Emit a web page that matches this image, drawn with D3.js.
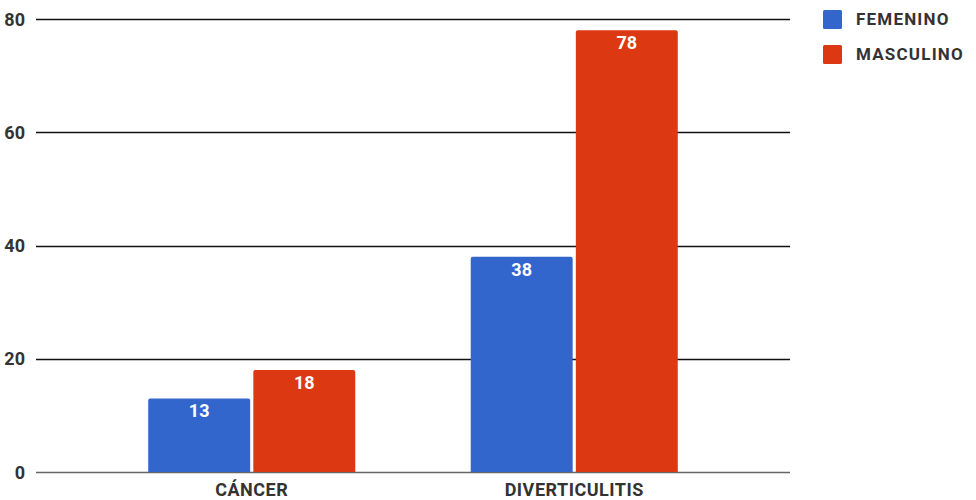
<!DOCTYPE html>
<html>
<head>
<meta charset="utf-8">
<script src="https://cdn.jsdelivr.net/npm/d3@7"></script>
<style>
  html, body { margin: 0; padding: 0; background: #fff; }
  svg { display: block; font-family: Roboto, "Noto Sans", sans-serif; }
</style>
</head>
<body>
<svg id="chart" width="976" height="500"></svg>
<script>
// Cases by diagnosis and sex
const categories = ["CÁNCER", "DIVERTICULITIS"];
const seriesNames = ["FEMENINO", "MASCULINO"];
const femenino = [13, 38];
const masculino = [18, 78];
const yTicks = [0, 20, 40, 60, 80];
const colors = ["#3366cc", "#dc3912"];

const seriesValues = [femenino, masculino];
const svg = d3.select("#chart");

const plot = { left: 36, right: 790, top: 19, bottom: 472 };

const y = d3.scaleLinear().domain([0, 80]).range([plot.bottom, plot.top]);
const x = d3.scaleBand().domain(categories).range([plot.left, plot.right])
  .paddingInner(0.358).paddingOuter(0.348);
const xs = d3.scaleBand().domain(seriesNames).range([0, x.bandwidth()]).paddingInner(0.03);

// Gridlines
const grid = svg.append("g");
grid.selectAll("line").data(yTicks).join("line")
  .attr("x1", plot.left).attr("x2", plot.right)
  .attr("y1", d => Math.round(y(d)) + 0.5).attr("y2", d => Math.round(y(d)) + 0.5)
  .attr("stroke", d => d === 0 ? "#666" : "#111")
  .attr("stroke-width", d => d === 0 ? 1.3 : 1.5);

// Y tick labels
svg.append("g").selectAll("text").data(yTicks).join("text")
  .attr("x", 25).attr("y", d => y(d) + 6.5)
  .attr("text-anchor", "end")
  .attr("font-size", 18).attr("font-weight", "bold").attr("fill", "#333")
  .text(d => d);

// Bars
const groups = svg.append("g").selectAll("g").data(categories).join("g")
  .attr("transform", c => `translate(${x(c)},0)`);

groups.each(function(c, ci) {
  const g = d3.select(this);
  seriesNames.forEach((s, si) => {
    const v = seriesValues[si][ci];
    g.append("path")
      .attr("d", () => {
        const x0 = xs(s), w = xs.bandwidth(), top = y(v), bot = y(0), r = 2;
        return `M${x0},${bot}V${top + r}Q${x0},${top} ${x0 + r},${top}H${x0 + w - r}Q${x0 + w},${top} ${x0 + w},${top + r}V${bot}Z`;
      })
      .attr("fill", colors[si]);
    g.append("text")
      .attr("x", xs(s) + xs.bandwidth() / 2)
      .attr("y", y(v) + 19)
      .attr("text-anchor", "middle")
      .attr("font-size", 18).attr("font-weight", "bold").attr("fill", "#fff")
      .text(v);
  });
});

// Category labels
svg.append("g").selectAll("text").data(categories).join("text")
  .attr("x", c => x(c) + x.bandwidth() / 2)
  .attr("y", 496)
  .attr("text-anchor", "middle")
  .attr("font-size", 18).attr("font-weight", "bold").attr("fill", "#333")
  .attr("letter-spacing", 0.5)
  .text(c => c);

// Legend
const legend = svg.append("g").selectAll("g").data(seriesNames).join("g")
  .attr("transform", (d, i) => `translate(823,${10 + i * 35})`);
legend.append("rect").attr("width", 19).attr("height", 19).attr("rx", 1.5)
  .attr("fill", (d, i) => colors[i]);
legend.append("text").attr("x", 33).attr("y", 15)
  .attr("font-size", 17).attr("font-weight", "bold").attr("fill", "#333")
  .attr("letter-spacing", 1.2)
  .text(d => d);
</script>
</body>
</html>
